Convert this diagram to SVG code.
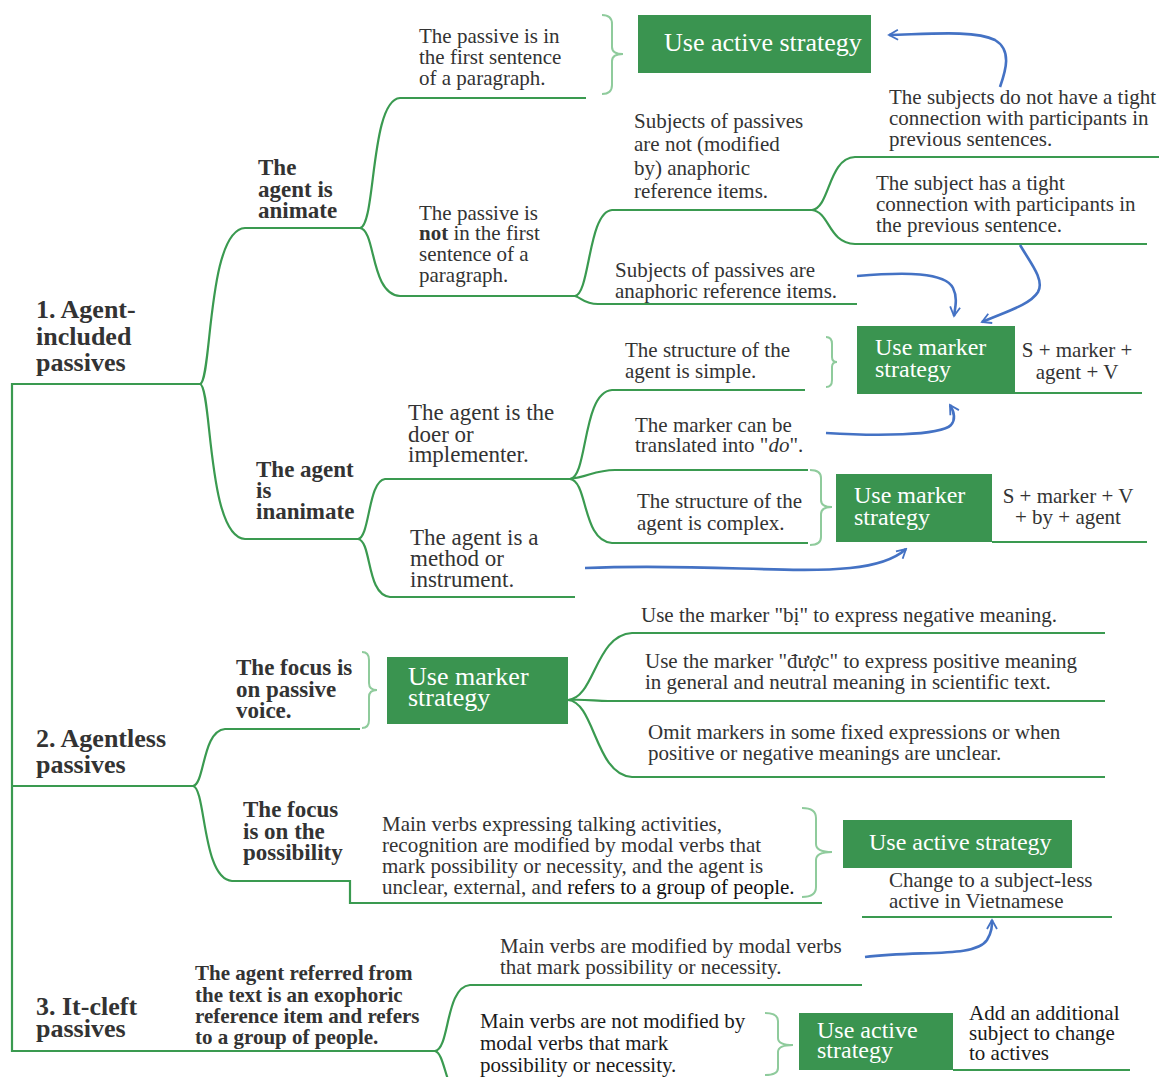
<svg xmlns="http://www.w3.org/2000/svg" width="1159" height="1077" viewBox="0 0 1159 1077">
<defs>
<style>
.t{font-family:"Liberation Serif","Times New Roman",serif;font-size:21px;fill:#333}
.l{font-size:23px}
.b{font-weight:bold}
.h{font-size:26px;font-weight:bold}
.s2{font-size:23px;font-weight:bold}
.w{fill:#fff}
.box{fill:#3a9450}
.g{fill:none;stroke:#3a9a50;stroke-width:2.2}
.br{fill:none;stroke:#8fcb9c;stroke-width:2}
.ar{fill:none;stroke:#4472c4;stroke-width:2.6;marker-end:url(#ah)}
</style>
<marker id="ah" viewBox="0 0 12 12" refX="10" refY="6" markerWidth="12" markerHeight="12" markerUnits="userSpaceOnUse" orient="auto">
<path d="M1,1 L10,6 L1,11" fill="none" stroke="#4472c4" stroke-width="1.8"/>
</marker>
</defs>
<rect width="1159" height="1077" fill="#fff"/>

<g id="connectors">
<!-- trunk -->
<path class="g" d="M200,384 L12,384 L12,1051 L435,1051 M12,786 L193,786"/>
<!-- J1 -->
<path class="g" d="M200,384 C212,382 207,230 245,228 L360,228"/>
<path class="g" d="M200,384 C212,386 207,537 245,539 L358,539"/>
<!-- J2 -->
<path class="g" d="M360,228 C376,226 370,100 400,98 L586,98"/>
<path class="g" d="M360,228 C376,230 370,294 400,296 L575,296"/>
<!-- J3 -->
<path class="g" d="M575,296 C590,294 588,212 612,210 L812,210"/>
<path class="g" d="M575,296 C582,298 584,304 598,304 L857,304"/>
<!-- J4 -->
<path class="g" d="M812,210 C830,208 828,158 855,157 L1159,157"/>
<path class="g" d="M812,210 C830,212 828,243 855,244 L1147,244"/>
<!-- J5 -->
<path class="g" d="M358,539 C370,537 368,481 385,479 L570,479"/>
<path class="g" d="M358,539 C372,541 366,595 390,597 L575,597"/>
<!-- J6 -->
<path class="g" d="M570,479 C588,477 582,392 612,390 L805,390"/>
<path class="g" d="M570,479 C588,477 595,470 615,470 L808,470"/>
<path class="g" d="M570,479 C588,481 582,541 612,543 L808,543"/>
<!-- J7 -->
<path class="g" d="M193,786 C205,784 202,731 225,729 L360,729"/>
<path class="g" d="M193,786 C206,788 202,879 232,881 L350,881 L350,903 L822,903"/>
<!-- J8 -->
<path class="g" d="M568,700 C595,698 595,635 632,633 L1105,633"/>
<path class="g" d="M568,700 C585,699 595,701 608,701 L1105,701"/>
<path class="g" d="M568,700 C595,702 595,775 632,777 L1105,777"/>
<!-- J9 -->
<path class="g" d="M435,1051 C450,1049 445,987 470,985 L862,985"/>
<path class="g" d="M435,1051 C442,1053 444,1070 450,1085"/>
<!-- result underlines -->
<path class="g" d="M1015,393 L1142,393 M992,542 L1147,542 M862,917 L1112,917 M953,1070 L1130,1070"/>
<!-- braces -->
<path class="br" d="M602,15 Q612,15 612,24 L612,47 Q612,54 623,54 Q612,54 612,61 L612,85 Q612,94 602,94"/>
<path class="br" d="M826,337 Q832,337 832,344 L832,357 Q832,362 837,362 Q832,362 832,367 L832,380 Q832,387 826,387"/>
<path class="br" d="M810,470 Q821,470 821,478 L821,500 Q821,507 832,507 Q821,507 821,514 L821,537 Q821,545 810,545"/>
<path class="br" d="M362,652 Q369,652 369,660 L369,683 Q369,690 377,690 Q369,690 369,697 L369,720 Q369,728 362,728"/>
<path class="br" d="M802,808 Q816,808 816,818 L816,844 Q816,852 832,852 Q816,852 816,860 L816,887 Q816,897 802,897"/>
<path class="br" d="M765,1013 Q778,1013 778,1021 L778,1038 Q778,1045 793,1045 Q778,1045 778,1052 L778,1068 Q778,1075 765,1075"/>
<!-- blue arrows -->
<path class="ar" d="M1000,87 C1006,70 1012,50 995,40 C975,30 930,34 889,35"/>
<path class="ar" d="M1020,245 C1030,262 1045,280 1038,292 C1030,305 1005,312 982,322"/>
<path class="ar" d="M857,276 C905,272 945,272 953,288 C958,298 955,308 954,316"/>
<path class="ar" d="M826,433 C875,436 940,436 951,425 C957,418 953,410 950,405"/>
<path class="ar" d="M585,568 C700,563 790,574 850,568 C880,565 896,558 906,549"/>
<path class="ar" d="M865,957 C920,950 975,958 987,940 C992,932 992,926 992,920"/>
</g>

<g id="n-agent-included"><text class="t h"><tspan x="36" y="318">1. Agent-</tspan><tspan x="36" y="345">included</tspan><tspan x="36" y="371">passives</tspan></text></g>
<g id="n-agentless"><text class="t h"><tspan x="36" y="747">2. Agentless</tspan><tspan x="36" y="773">passives</tspan></text></g>
<g id="n-itcleft"><text class="t h"><tspan x="36" y="1015">3. It-cleft</tspan><tspan x="36" y="1037">passives</tspan></text></g>

<g id="n-animate"><text class="t s2"><tspan x="258" y="175">The</tspan><tspan x="258" y="197">agent is</tspan><tspan x="258" y="218">animate</tspan></text></g>
<g id="n-inanimate"><text class="t s2"><tspan x="256" y="477">The agent</tspan><tspan x="256" y="498">is</tspan><tspan x="256" y="519">inanimate</tspan></text></g>
<g id="n-focus-voice"><text class="t s2"><tspan x="236" y="675">The focus is</tspan><tspan x="236" y="697">on passive</tspan><tspan x="236" y="718">voice.</tspan></text></g>
<g id="n-focus-possibility"><text class="t s2"><tspan x="243" y="817">The focus</tspan><tspan x="243" y="839">is on the</tspan><tspan x="243" y="860">possibility</tspan></text></g>
<g id="n-exophoric"><text class="t b"><tspan x="195" y="980">The agent referred from</tspan><tspan x="195" y="1002">the text is an exophoric</tspan><tspan x="195" y="1023">reference item and refers</tspan><tspan x="195" y="1044">to a group of people.</tspan></text></g>

<g id="n-first-sentence"><text class="t"><tspan x="419" y="43">The passive is in</tspan><tspan x="419" y="64">the first sentence</tspan><tspan x="419" y="85">of a paragraph.</tspan></text></g>
<g id="n-active1"><rect class="box" x="638" y="15" width="233" height="58"/><text class="t w" x="664" y="51" style="font-size:26px">Use active strategy</text></g>
<g id="n-not-first"><text class="t"><tspan x="419" y="220">The passive is</tspan><tspan x="419" y="240"><tspan font-weight="bold">not</tspan> in the first</tspan><tspan x="419" y="261">sentence of a</tspan><tspan x="419" y="282">paragraph.</tspan></text></g>
<g id="n-not-anaphoric"><text class="t"><tspan x="634" y="128">Subjects of passives</tspan><tspan x="634" y="151">are not (modified</tspan><tspan x="634" y="175">by) anaphoric</tspan><tspan x="634" y="198">reference items.</tspan></text></g>
<g id="n-anaphoric"><text class="t"><tspan x="615" y="277">Subjects of passives are</tspan><tspan x="615" y="298">anaphoric reference items.</tspan></text></g>
<g id="n-no-tight"><text class="t"><tspan x="889" y="104">The subjects do not have a tight</tspan><tspan x="889" y="125">connection with participants in</tspan><tspan x="889" y="146">previous sentences.</tspan></text></g>
<g id="n-tight"><text class="t"><tspan x="876" y="190">The subject has a tight</tspan><tspan x="876" y="211">connection with participants in</tspan><tspan x="876" y="232">the previous sentence.</tspan></text></g>

<g id="n-doer"><text class="t l"><tspan x="408" y="420">The agent is the</tspan><tspan x="408" y="442">doer or</tspan><tspan x="408" y="462">implementer.</tspan></text></g>
<g id="n-simple"><text class="t"><tspan x="625" y="357">The structure of the</tspan><tspan x="625" y="378">agent is simple.</tspan></text></g>
<g id="n-marker2"><rect class="box" x="857" y="326" width="158" height="68"/><text class="t w" style="font-size:24px"><tspan x="875" y="355">Use marker</tspan><tspan x="875" y="377">strategy</tspan></text></g>
<g id="n-formula1"><text class="t" text-anchor="middle"><tspan x="1077" y="357">S + marker +</tspan><tspan x="1077" y="379">agent + V</tspan></text></g>
<g id="n-do"><text class="t"><tspan x="635" y="432">The marker can be</tspan><tspan x="635" y="452">translated into "<tspan font-style="italic">do</tspan>".</tspan></text></g>
<g id="n-complex"><text class="t"><tspan x="637" y="508">The structure of the</tspan><tspan x="637" y="530">agent is complex.</tspan></text></g>
<g id="n-marker3"><rect class="box" x="836" y="474" width="156" height="68"/><text class="t w" style="font-size:24px"><tspan x="854" y="503">Use marker</tspan><tspan x="854" y="525">strategy</tspan></text></g>
<g id="n-formula2"><text class="t" text-anchor="middle"><tspan x="1068" y="503">S + marker + V</tspan><tspan x="1068" y="524">+ by + agent</tspan></text></g>
<g id="n-method"><text class="t l"><tspan x="410" y="545">The agent is a</tspan><tspan x="410" y="566">method or</tspan><tspan x="410" y="587">instrument.</tspan></text></g>

<g id="n-marker4"><rect class="box" x="387" y="657" width="181" height="67"/><text class="t w" style="font-size:26px"><tspan x="408" y="685">Use marker</tspan><tspan x="408" y="706">strategy</tspan></text></g>
<g id="n-bi"><text class="t" x="641" y="622">Use the marker "bị" to express negative meaning.</text></g>
<g id="n-duoc"><text class="t"><tspan x="645" y="668">Use the marker "được" to express positive meaning</tspan><tspan x="645" y="689">in general and neutral meaning in scientific text.</tspan></text></g>
<g id="n-omit"><text class="t"><tspan x="648" y="739">Omit markers in some fixed expressions or when</tspan><tspan x="648" y="760">positive or negative meanings are unclear.</tspan></text></g>

<g id="n-talking"><text class="t"><tspan x="382" y="831">Main verbs expressing talking activities,</tspan><tspan x="382" y="852">recognition are modified by modal verbs that</tspan><tspan x="382" y="873">mark possibility or necessity, and the agent is</tspan><tspan x="382" y="894">unclear, external, and <tspan fill="#111">refers to a group of people.</tspan></tspan></text></g>
<g id="n-active5"><rect class="box" x="843" y="820" width="229" height="48"/><text class="t w" x="869" y="850" style="font-size:24px">Use active strategy</text></g>
<g id="n-subjectless"><text class="t"><tspan x="889" y="887">Change to a subject-less</tspan><tspan x="889" y="908">active in Vietnamese</tspan></text></g>

<g id="n-modal"><text class="t"><tspan x="500" y="953">Main verbs are modified by modal verbs</tspan><tspan x="500" y="974">that mark possibility or necessity.</tspan></text></g>
<g id="n-not-modal"><text class="t" fill="#111" style="fill:#1a1a1a"><tspan x="480" y="1028">Main verbs are not modified by</tspan><tspan x="480" y="1050">modal verbs that mark</tspan><tspan x="480" y="1072">possibility or necessity.</tspan></text></g>
<g id="n-active6"><rect class="box" x="799" y="1013" width="154" height="57"/><text class="t w" style="font-size:24px"><tspan x="817" y="1038">Use active</tspan><tspan x="817" y="1058">strategy</tspan></text></g>
<g id="n-add-subject"><text class="t" style="fill:#1a1a1a"><tspan x="969" y="1020">Add an additional</tspan><tspan x="969" y="1040">subject to change</tspan><tspan x="969" y="1060">to actives</tspan></text></g>
</svg>
